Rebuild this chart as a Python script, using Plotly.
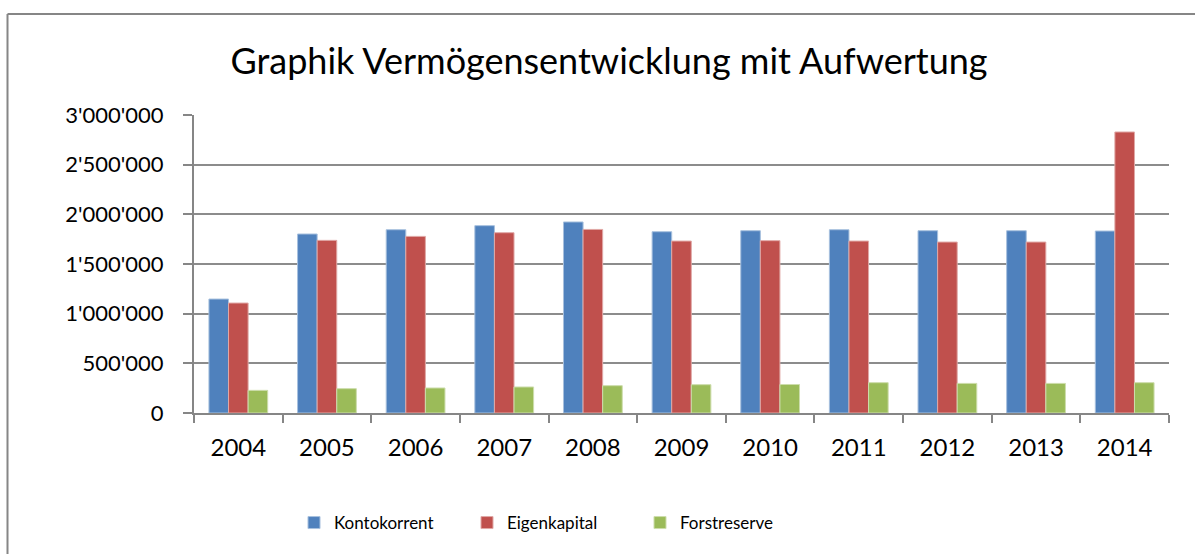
import plotly.graph_objects as go

years = ["2004", "2005", "2006", "2007", "2008", "2009", "2010", "2011", "2012", "2013", "2014"]
kontokorrent = [1147000, 1802000, 1845000, 1886000, 1923000, 1825000, 1835000, 1845000, 1835000, 1835000, 1832000]
eigenkapital = [1107000, 1738000, 1778000, 1815000, 1848000, 1731000, 1735000, 1731000, 1721000, 1721000, 2829000]
forstreserve = [228000, 245000, 252000, 262000, 275000, 285000, 287000, 305000, 298000, 298000, 305000]

series_names = ["Kontokorrent", "Eigenkapital", "Forstreserve"]
colors = ["#4F81BD", "#C0504D", "#9BBB59"]
edge = ["#A7C0DE", "#E0A8A6", "#CDDDAC"]
y_ticks = [0, 500000, 1000000, 1500000, 2000000, 2500000, 3000000]

W, H = 1195, 554
L, R, T, B = 194, 26, 115, 141
pw, ph = W - L - R, H - T - B

fig = go.Figure()
for name, vals, c, e in zip(series_names, [kontokorrent, eigenkapital, forstreserve], colors, edge):
    fig.add_trace(go.Bar(x=years, y=vals, name=name, marker=dict(color=c, line=dict(color=e, width=1))))

font = "Lato, 'Open Sans', sans-serif"
bx0 = (7.5 - L) / pw
bx1 = (W + 5 - L) / pw
by1 = (T + ph - 14) / ph
by0 = (T + ph - (H + 5)) / ph
border = dict(color="#868686", width=2)
fig.update_layout(
    width=W, height=H,
    margin=dict(l=L, r=R, t=T, b=B),
    paper_bgcolor="white", plot_bgcolor="white",
    separators=".'",
    barmode="group", bargap=0.337, bargroupgap=0,
    font=dict(family=font, color="black"),
    title=dict(text="Graphik Vermögensentwicklung mit Aufwertung", x=609 / W, xref="container", xanchor="center",
               y=1 - 61 / H, yref="container", yanchor="middle", font=dict(size=36, family=font, color="black")),
    xaxis=dict(showline=True, linecolor="#868686", linewidth=2, ticks="outside", tickson="boundaries",
               ticklen=8, tickwidth=2, tickcolor="#868686", tickfont=dict(size=24, family=font), showgrid=False,
               ticklabelstandoff=12),
    yaxis=dict(range=[0, 3000000], tickvals=y_ticks, tickformat=",d", showline=True, linecolor="#868686", linewidth=2,
               ticks="outside", ticklen=9, tickwidth=2, tickcolor="#868686", gridcolor="#8C8C8C", gridwidth=1.5,
               tickfont=dict(size=22, family=font), zeroline=False, ticklabelstandoff=15),
    legend=dict(orientation="h", x=(294 - L) / pw, xanchor="left", y=-(523 - (T + ph)) / ph, yanchor="middle",
                entrywidth=128, font=dict(size=17, family=font), itemwidth=30),
    shapes=[
        dict(type="line", xref="paper", yref="paper", x0=bx0, x1=bx1, y0=by1, y1=by1, line=border, layer="below"),
        dict(type="line", xref="paper", yref="paper", x0=bx0, x1=bx0, y0=by0, y1=by1, line=border, layer="below"),
    ],
)
fig.write_html("out.html")
